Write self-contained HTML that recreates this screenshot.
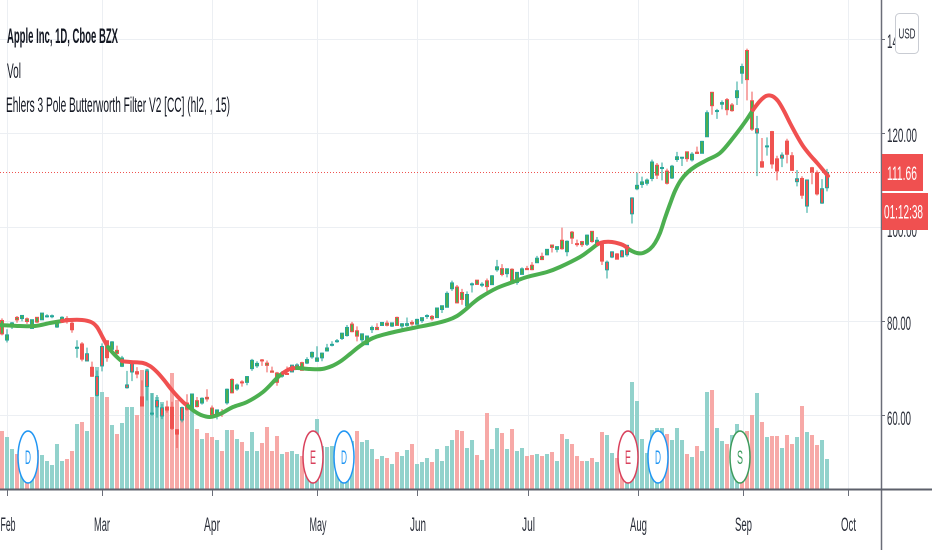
<!DOCTYPE html>
<html><head><meta charset="utf-8"><style>
html,body{margin:0;padding:0;background:#fff;width:932px;height:550px;overflow:hidden}
svg{display:block}
text{font-family:"Liberation Sans",sans-serif}
</style></head><body>
<svg id="s" width="932" height="550" viewBox="0 0 932 550" xmlns="http://www.w3.org/2000/svg">
<rect width="932" height="550" fill="#fff"/>
<g stroke="#eceff3" stroke-width="1">
<line x1="0" x2="881" y1="39.5" y2="39.5"/><line x1="0" x2="881" y1="133.5" y2="133.5"/><line x1="0" x2="881" y1="227.5" y2="227.5"/><line x1="0" x2="881" y1="321.5" y2="321.5"/><line x1="0" x2="881" y1="415.5" y2="415.5"/>
<line x1="7.5" x2="7.5" y1="0" y2="489"/><line x1="102.5" x2="102.5" y1="0" y2="489"/><line x1="212.5" x2="212.5" y1="0" y2="489"/><line x1="317.5" x2="317.5" y1="0" y2="489"/><line x1="417.5" x2="417.5" y1="0" y2="489"/><line x1="528.5" x2="528.5" y1="0" y2="489"/><line x1="638.5" x2="638.5" y1="0" y2="489"/><line x1="743.5" x2="743.5" y1="0" y2="489"/><line x1="848.5" x2="848.5" y1="0" y2="489"/>
</g>
<g id="vol"></g>
<g id="mk" stroke-width="1.5" fill="#fff">
<ellipse cx="28" cy="457" rx="10" ry="26" stroke="#2196f3"/>
<ellipse cx="313" cy="457" rx="10" ry="26" stroke="#d9415c"/>
<ellipse cx="344" cy="457" rx="10" ry="26" stroke="#2196f3"/>
<ellipse cx="628" cy="457" rx="10" ry="26" stroke="#d9415c"/>
<ellipse cx="658" cy="457" rx="10" ry="26" stroke="#2196f3"/>
<ellipse cx="740" cy="457" rx="10" ry="26" stroke="#3e9c5e"/>
</g>
<g font-size="19" text-anchor="middle">
<text x="28" y="464" fill="#2196f3" textLength="6" lengthAdjust="spacingAndGlyphs">D</text>
<text x="313" y="464" fill="#d9415c" textLength="6" lengthAdjust="spacingAndGlyphs">E</text>
<text x="344" y="464" fill="#2196f3" textLength="6" lengthAdjust="spacingAndGlyphs">D</text>
<text x="628" y="464" fill="#d9415c" textLength="6" lengthAdjust="spacingAndGlyphs">E</text>
<text x="658" y="464" fill="#2196f3" textLength="6" lengthAdjust="spacingAndGlyphs">D</text>
<text x="740" y="464" fill="#3e9c5e" textLength="6" lengthAdjust="spacingAndGlyphs">S</text>
</g>
<line x1="0" x2="881" y1="172.5" y2="172.5" stroke="#ef5350" stroke-width="1" stroke-dasharray="1 2"/>
<g id="cdl"></g>
<g id="flt" fill="none" stroke-width="4" stroke-linecap="round" stroke-linejoin="round"></g>
<line x1="881.5" x2="881.5" y1="0" y2="550" stroke="#6a6d78" stroke-width="1.5"/>
<line x1="0" x2="932" y1="489.5" y2="489.5" stroke="#5d606b" stroke-width="2"/>
<g stroke="#6a6d78" stroke-width="1">
<line x1="881" x2="885" y1="39.5" y2="39.5"/><line x1="881" x2="885" y1="133.5" y2="133.5"/><line x1="881" x2="885" y1="227.5" y2="227.5"/><line x1="881" x2="885" y1="321.5" y2="321.5"/><line x1="881" x2="885" y1="415.5" y2="415.5"/>
<line x1="7.5" x2="7.5" y1="490" y2="496"/><line x1="102.5" x2="102.5" y1="490" y2="496"/><line x1="212.5" x2="212.5" y1="490" y2="496"/><line x1="317.5" x2="317.5" y1="490" y2="496"/><line x1="417.5" x2="417.5" y1="490" y2="496"/><line x1="528.5" x2="528.5" y1="490" y2="496"/><line x1="638.5" x2="638.5" y1="490" y2="496"/><line x1="743.5" x2="743.5" y1="490" y2="496"/><line x1="848.5" x2="848.5" y1="490" y2="496"/>
</g>
<g font-size="19" fill="#2a2e39">
<text x="887" y="48" textLength="30" lengthAdjust="spacingAndGlyphs">140.00</text>
<text x="887" y="142" textLength="30" lengthAdjust="spacingAndGlyphs">120.00</text>
<text x="887" y="237" textLength="30" lengthAdjust="spacingAndGlyphs">100.00</text>
<text x="887" y="330" textLength="24" lengthAdjust="spacingAndGlyphs">80.00</text>
<text x="887" y="425" textLength="24" lengthAdjust="spacingAndGlyphs">60.00</text>
</g>
<g font-size="19" fill="#2a2e39" text-anchor="middle">
<text x="8" y="531" textLength="15" lengthAdjust="spacingAndGlyphs">Feb</text>
<text x="102" y="531" textLength="16" lengthAdjust="spacingAndGlyphs">Mar</text>
<text x="212" y="531" textLength="16" lengthAdjust="spacingAndGlyphs">Apr</text>
<text x="318" y="531" textLength="17" lengthAdjust="spacingAndGlyphs">May</text>
<text x="418" y="531" textLength="16" lengthAdjust="spacingAndGlyphs">Jun</text>
<text x="528.5" y="531" textLength="13" lengthAdjust="spacingAndGlyphs">Jul</text>
<text x="638.5" y="531" textLength="17" lengthAdjust="spacingAndGlyphs">Aug</text>
<text x="743.5" y="531" textLength="17" lengthAdjust="spacingAndGlyphs">Sep</text>
<text x="848.5" y="531" textLength="15" lengthAdjust="spacingAndGlyphs">Oct</text>
</g>
<rect x="882" y="154" width="41" height="37" fill="#f05050"/>
<text x="887" y="180" font-size="19" fill="#fff" textLength="30" lengthAdjust="spacingAndGlyphs">111.66</text>
<rect x="882" y="193" width="46" height="37" fill="#f05050"/>
<text x="884" y="218.5" font-size="19" fill="#fff" textLength="39" lengthAdjust="spacingAndGlyphs">01:12:38</text>
<rect x="895.5" y="13.5" width="23" height="40" rx="4" fill="#fff" stroke="#c9ccd3" stroke-width="1"/>
<text x="907" y="38.5" font-size="15" fill="#2a2e39" text-anchor="middle" textLength="17" lengthAdjust="spacingAndGlyphs">USD</text>
<text x="7" y="43" font-size="21" font-weight="bold" fill="#131722" textLength="111" lengthAdjust="spacingAndGlyphs">Apple Inc, 1D, Cboe BZX</text>
<text x="7" y="78" font-size="21" fill="#131722" textLength="14" lengthAdjust="spacingAndGlyphs">Vol</text>
<text x="6" y="112" font-size="21" fill="#131722" textLength="224" lengthAdjust="spacingAndGlyphs">Ehlers 3 Pole Butterworth Filter V2 [CC] (hl2, , 15)</text>
</svg>
<script>
(function(){
var ns='http://www.w3.org/2000/svg';
function el(p,t,a){var e=document.createElementNS(ns,t);for(var k in a)e.setAttribute(k,a[k]);p.appendChild(e);return e;}
var gV=document.getElementById('vol'),gC=document.getElementById('cdl'),gL=document.getElementById('flt');
var V="431r 437g 449g 454r 455g 457r 458g 450r 455g 461g 465g 444g 461g 459r 451r 424g 422r 431g 397r 367g 392g 397r 425g 434r 423g 407g 407g 415r 370r 369g 393g 397g 402g 410r 373r 400r 413r 407r 407g 429r 439g 433r 437r 440g 451r 430g 430r 439g 442r 451g 432g 451g 443r 427r 451r 436r 454g 452r 451g 454g 456r 445g 440g 419g 446g 447g 446g 447g 446g 445g 441g 431r 442g 440g 449g 459r 456g 458r 464g 452r 456g 450g 444r 464g 462g 458g 462r 449g 461g 446g 440g 430r 431r 448g 440g 455r 460g 413r 449g 428g 433r 449g 429r 451g 448g 456r 455r 454g 456r 454g 452r 461g 434r 439g 444r 456r 461r 461g 458r 462g 432r 435g 453g 458r 445r 440g 382g 401g 439g 453g 430g 428g 428g 434r 440g 428g 440g 454r 457g 446r 451g 392g 390r 428g 441g 444r 435g 424g 433r 431r 415r 393g 422r 437g 436r 436r 448g 435r 444r 437g 406r 432g 435r 445r 440g 459g".split(' ');
V.forEach(function(v,k){var i=k-1,x=7+5*i,y=parseFloat(v);var c=v.slice(-1)=='g'?'#92d2cc':'#f7a9a7';el(gV,'rect',{x:x-2,y:y,width:4,height:489-y,fill:c});});
var P="80.23 80.67 77.07 77.38|76.07 78.37 75.56 77.17|78.83 79.91 78.41 79.71|80.88 81.19 79.74 80.36|80.64 81.31 80.07 81.30|80.59 80.85 79.50 80.01|78.54 80.39 78.46 80.39|80.90 80.97 79.68 79.90|80.37 81.81 80.37 81.80|81.05 81.56 80.84 81.22|81.18 81.50 80.71 81.24|78.84 79.94 78.65 79.75|80.00 81.14 80.00 80.90|80.66 81.16 79.55 80.07|79.65 80.11 77.63 78.26|74.32 76.04 72.31 74.54|75.24 75.63 71.53 72.02|71.63 74.47 71.63 73.16|70.28 71.50 68.24 68.38|64.32 69.60 64.09 68.34|70.57 75.36 69.43 74.70|75.92 76.00 71.45 72.33|74.11 75.85 73.28 75.68|73.88 74.89 72.85 73.23|70.50 72.71 70.31 72.26|65.94 69.52 65.75 66.54|69.29 71.61 67.34 71.33|69.35 70.31 67.96 68.86|63.99 67.50 62.00 62.06|66.22 69.98 63.24 69.49|60.49 64.77 60.00 60.55|61.88 64.40 59.60 63.22|59.94 62.50 59.28 61.67|61.85 63.21 60.65 61.20|61.79 62.96 57.00 57.31|57.02 57.13 53.15 56.09|59.09 61.92 58.58 61.72|62.69 64.56 61.08 61.38|61.63 64.67 61.59 64.61|63.19 63.97 61.76 61.94|62.69 63.88 62.35 63.70|63.90 65.62 63.00 63.57|61.63 62.18 59.78 60.23|60.09 61.29 59.22 61.23|60.70 61.43 59.74 60.35|62.73 65.78 62.35 65.62|67.70 67.93 64.75 64.86|65.68 66.84 65.31 66.52|67.18 67.52 66.18 66.99|67.08 68.43 66.46 68.31|70.00 72.06 69.51 71.76|70.60 71.58 70.16 71.11|71.85 72.05 70.59 71.67|71.17 71.74 69.21 70.70|69.49 70.42 69.21 69.23|69.07 69.31 66.36 67.09|68.40 69.48 68.05 69.03|68.97 70.44 68.72 68.76|69.30 70.75 69.25 70.74|70.45 71.14 69.99 70.79|71.27 71.46 69.55 69.64|71.18 72.42 70.97 71.93|72.49 73.63 72.09 73.45|71.56 74.75 71.46 72.27|72.29 73.42 71.58 73.29|73.76 75.25 73.61 74.39|75.11 75.81 74.72 75.16|75.81 76.29 75.49 75.93|76.41 77.59 76.07 77.53|77.03 79.26 76.81 78.75|79.46 79.92 77.73 77.85|78.04 78.99 75.80 76.91|76.13 77.45 75.38 77.39|75.09 76.97 75.05 76.93|78.29 79.13 77.58 78.74|78.76 79.63 78.25 78.29|79.17 79.88 79.13 79.81|79.67 80.22 78.97 79.21|79.04 79.81 78.84 79.72|80.88 81.06 79.13 79.18|79.04 79.68 78.27 79.53|79.19 80.86 78.91 79.56|79.81 80.29 79.12 79.49|79.44 80.59 79.30 80.46|80.19 80.86 79.73 80.83|81.17 81.55 80.57 81.28|81.10 81.40 80.19 80.58|80.84 82.94 80.81 82.88|82.56 83.40 81.83 83.36|83.04 86.40 83.00 85.99|86.98 88.69 86.52 88.21|87.33 87.76 83.87 83.97|86.18 86.95 83.56 84.70|83.31 86.42 83.15 85.75|87.87 88.30 86.18 88.02|88.79 88.85 87.77 87.90|87.85 88.36 87.31 87.93|88.66 89.14 86.29 87.43|87.84 89.87 87.79 89.72|91.00 93.10 90.57 91.63|91.25 92.20 89.63 90.01|90.18 91.25 89.39 91.21|91.10 91.33 88.25 88.41|88.31 90.54 87.82 90.45|90.02 91.50 90.00 91.20|91.28 91.84 90.98 91.03|91.96 92.62 90.91 91.03|92.50 93.95 92.47 93.46|93.85 94.65 93.06 93.17|94.18 95.38 94.09 95.34|96.26 96.32 94.67 95.75|95.34 95.98 94.71 95.92|97.27 99.96 95.26 95.48|94.84 97.26 93.88 97.06|98.99 99.25 96.49 97.73|96.56 97.41 95.91 96.52|96.99 97.15 95.84 96.33|96.42 98.50 96.06 98.36|99.17 99.25 96.74 97.00|96.69 97.97 96.60 97.27|96.99 97.08 92.01 92.85|90.99 92.97 89.14 92.62|93.71 94.91 93.48 94.81|94.37 94.55 93.25 93.25|93.75 95.23 93.71 95.04|94.19 96.30 93.77 96.19|102.89 106.42 100.83 106.26|108.20 111.64 107.89 108.94|109.13 110.79 108.39 109.67|109.38 110.39 108.90 110.06|110.40 114.41 109.80 113.90|113.21 113.68 110.29 111.11|112.60 113.78 110.00 112.73|111.97 112.48 109.11 109.38|110.50 113.28 110.30 113.01|114.43 116.04 113.93 115.01|114.83 115.00 113.05 114.91|116.06 116.09 113.96 114.61|114.35 116.00 114.01 115.56|115.98 117.16 115.61 115.71|115.75 118.39 115.73 118.28|119.26 124.87 119.25 124.37|128.70 128.79 123.94 125.86|124.70 125.18 123.05 124.83|126.18 126.99 125.08 126.52|127.14 127.49 123.83 125.01|126.01 126.44 124.58 124.81|127.58 131.00 126.00 129.04|132.76 134.80 130.53 134.18|137.59 137.98 127.00 131.40|126.91 128.84 120.50 120.88|120.07 123.70 110.89 120.96|113.95 118.99 112.68 112.82|117.26 119.14 115.26 117.32|120.36 120.50 112.50 113.49|114.57 115.23 110.00 112.00|114.72 115.93 112.80 115.36|118.33 118.83 113.61 115.54|115.23 116.00 112.04 112.13|109.72 112.20 108.71 110.34|110.40 110.88 106.09 106.84|104.54 110.19 103.10 110.08|112.68 112.86 109.16 111.81|111.62 112.11 106.77 107.12|105.17 110.25 105.00 108.22|108.43 112.44 107.67 111.66".split('|');
var L=[[0,325,'g'],[20,326,'g'],[35,326,'g'],[50,323,'g'],[62,321,'r'],[70,320,'r'],[82,320,'r'],[91,322,'r'],[97,327,'r'],[103,338,'r'],[108,347,'g'],[113,353,'g'],[118,358,'g'],[122,361,'r'],[130,362,'r'],[143,363,'r'],[150,366,'r'],[157,372,'r'],[164,380,'r'],[171,389,'r'],[178,397,'r'],[184,403,'r'],[188,406,'g'],[194,411,'g'],[201,415,'g'],[210,417,'g'],[220,414,'g'],[233,407,'g'],[247,402,'g'],[263,392,'g'],[277,378,'g'],[283,373,'r'],[290,369,'r'],[297,368,'g'],[310,369,'g'],[322,369,'g'],[332,366,'g'],[341,361,'g'],[350,354,'g'],[360,346,'g'],[373,338,'g'],[390,333,'g'],[413,328,'g'],[433,324,'g'],[448,320,'g'],[457,316,'g'],[465,310,'g'],[473,303,'g'],[481,297,'g'],[497,288,'g'],[513,282,'g'],[527,277,'g'],[547,272,'g'],[560,267,'g'],[580,257,'g'],[590,250,'g'],[598,244,'r'],[604,242,'r'],[612,242,'r'],[623,245,'r'],[630,250,'g'],[637,253,'g'],[643,253,'g'],[650,249,'g'],[655,243,'g'],[660,233,'g'],[665,218,'g'],[670,204,'g'],[675,191,'g'],[681,180,'g'],[688,172,'g'],[696,166,'g'],[707,160,'g'],[720,153,'g'],[733,138,'g'],[745,122,'g'],[753,110,'r'],[760,101,'r'],[766,96,'r'],[772,96,'r'],[778,101,'r'],[784,111,'r'],[790,123,'r'],[797,136,'r'],[803,146,'r'],[810,155,'r'],[818,164,'r'],[828,176,'r']];
function fc(x){var c='g';for(var j=0;j<L.length;j++){if(L[j][0]<=x)c=L[j][2];else break;}return c=='g'?'#4caf50':'#ef5350';}
function Y(p){return 415.7-(p-60)*4.707;}
P.forEach(function(s,k){var i=k-1,x=7+5*i;var a=s.split(' ').map(Number);var o=a[0],h=a[1],l=a[2],c=a[3];var up=c>=o;var dc=up?'#26a69a':'#ef5350';
el(gC,'line',{x1:x,x2:x,y1:Y(h),y2:Y(l),stroke:dc,'stroke-width':1});
var yt=Math.min(Y(o),Y(c)),yb=Math.max(Y(o),Y(c));var hh=Math.max(yb-yt,1);
el(gC,'rect',{x:x-1.5,y:yt,width:3,height:hh,fill:fc(x-4),stroke:dc,'stroke-width':1});});
var d='',cur=null;
for(var i=0;i<L.length-1;i++){var p0=L[i-1]||L[i],p1=L[i],p2=L[i+1],p3=L[i+2]||L[i+1];
var c1x=p1[0]+(p2[0]-p0[0])/6,c1y=p1[1]+(p2[1]-p0[1])/6,c2x=p2[0]-(p3[0]-p1[0])/6,c2y=p2[1]-(p3[1]-p1[1])/6;
if(p1[2]!==cur){if(d)el(gL,'path',{d:d,stroke:cur=='g'?'#4caf50':'#f05050'});cur=p1[2];d='M'+p1[0]+' '+p1[1];}
d+=' C'+c1x.toFixed(2)+' '+c1y.toFixed(2)+' '+c2x.toFixed(2)+' '+c2y.toFixed(2)+' '+p2[0]+' '+p2[1];}
if(d)el(gL,'path',{d:d,stroke:cur=='g'?'#4caf50':'#f05050'});
})();
</script>
</body></html>
